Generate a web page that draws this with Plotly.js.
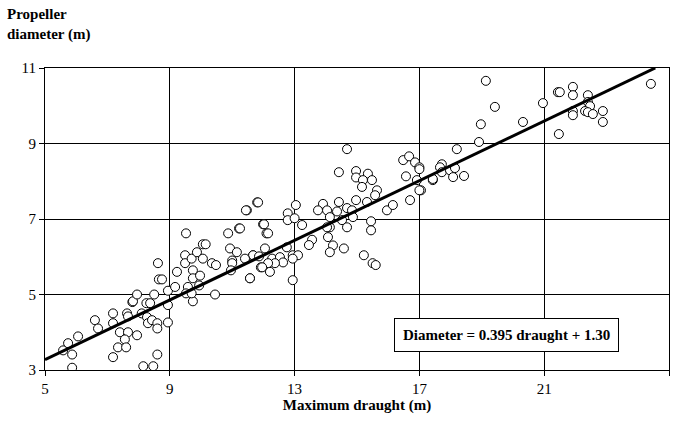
<!DOCTYPE html>
<html>
<head>
<meta charset="utf-8">
<script src="https://cdn.plot.ly/plotly-3.0.1.min.js"></script>
<style>html,body{margin:0;padding:0;background:#fff}#chart{width:676px;height:431px}</style>
</head>
<body>
<div id="chart"></div>
<script>
// Maximum draught (m)
const draught = [5.87,5.58,5.74,5.87,6.06,6.6,6.7,7.18,7.18,7.18,7.4,7.66,7.56,7.34,7.6,7.63,7.66,7.95,7.8,7.82,
  7.95,8.1,8.25,8.37,8.27,8.3,8.43,8.6,8.6,8.5,8.62,8.65,8.75,8.6,8.15,8.47,8.94,8.94,8.94,9.17,
  9.23,9.49,9.49,9.52,9.7,9.74,9.74,9.58,9.52,9.74,9.7,9.87,10.06,10.06,10.15,9.97,9.94,10.35,10.48,10.45,
  10.87,11.22,10.93,11.15,11.0,11.0,10.96,11.57,11.47,11.8,11.67,11.92,11.99,12.1,
  14.68,14.42,14.97,14.97,15.35,15.19,15.48,15.16,15.64,15.58,16.48,16.67,16.86,17.0,16.57,16.92,17.43,17.05,16.7,15.96,
  16.15,15.45,15.45,15.22,15.5,15.6,14.97,15.32,14.42,13.91,13.75,14.04,14.36,14.68,14.84,14.87,14.13,14.52,14.13,14.04,
  14.68,14.07,14.23,14.13,14.58,13.04,12.78,12.78,13.0,13.24,13.56,13.46,11.83,11.44,12.02,12.15,11.25,12.05,11.67,11.41,
  11.86,12.28,12.53,12.75,12.94,13.11,12.94,12.63,12.37,12.15,11.96,12.21,11.57,12.94,
  19.13,19.42,18.97,18.91,18.2,20.32,20.96,21.44,21.5,21.92,21.92,22.4,22.4,22.47,21.92,21.92,22.31,22.4,22.56,22.88,
  22.88,21.47,24.42,17.72,17.66,17.72,17.98,18.14,18.08,18.43,17.43,17.0,17.0];
// Propeller diameter (m)
const diameter = [3.06,3.52,3.71,3.41,3.89,4.32,4.1,4.5,4.24,3.34,4.0,4.0,3.81,3.6,3.6,4.5,4.42,3.92,4.8,4.82,
  5.0,4.5,4.77,4.77,4.4,4.24,4.32,4.24,4.1,5.0,5.83,5.4,5.4,3.41,3.1,3.1,5.1,4.72,4.26,5.2,
  5.6,6.04,5.83,6.62,5.95,5.64,5.43,5.2,5.03,4.82,5.03,6.12,5.95,6.33,6.33,5.5,5.24,5.83,5.78,5.0,
  6.62,6.75,6.22,6.12,5.9,5.83,5.64,5.43,7.23,7.44,6.04,5.72,6.86,6.62,
  8.85,8.24,8.27,8.1,8.2,8.03,8.03,7.85,7.76,7.63,8.56,8.66,8.5,8.37,8.13,8.03,8.03,7.76,7.5,7.23,
  7.37,6.94,6.7,6.04,5.83,5.78,7.5,7.45,7.45,7.4,7.23,7.23,7.2,7.29,7.23,7.05,7.05,6.97,6.78,6.78,
  6.78,6.52,6.3,6.12,6.22,7.37,7.15,6.97,7.02,6.84,6.45,6.31,7.44,7.23,6.86,6.62,6.75,6.22,6.04,5.95,
  6.01,5.95,5.99,6.25,6.04,6.04,5.95,5.85,5.83,5.83,5.72,5.6,5.43,5.38,
  10.66,9.97,9.51,9.04,8.85,9.57,10.07,10.36,10.36,10.5,10.28,10.28,10.1,9.99,9.86,9.75,9.86,9.83,9.78,9.86,
  9.57,9.25,10.58,8.45,8.37,8.24,8.29,8.35,8.11,8.14,8.06,8.32,7.76];
const slope = 0.395;
const intercept = 1.30;
const fitX = [5, 24.56];
const fitY = fitX.map(x => slope * x + intercept);

const font = 'Liberation Serif, Times New Roman, serif';

const data = [
  {
    type: 'scatter', mode: 'markers', x: draught, y: diameter,
    marker: { symbol: 'circle', size: 9, color: '#fff', line: { color: '#000', width: 1 } },
    hoverinfo: 'x+y'
  },
  {
    type: 'scatter', mode: 'lines', x: fitX, y: fitY,
    line: { color: '#000', width: 3 }
  }
];

const layout = {
  width: 676, height: 431,
  margin: { l: 45, r: 7, t: 68, b: 61 },
  paper_bgcolor: '#fff', plot_bgcolor: '#fff',
  showlegend: false,
  font: { family: font, size: 14, color: '#000' },
  xaxis: {
    range: [5, 25], tickvals: [5, 9, 13, 17, 21, 25],
    showgrid: true, gridcolor: '#000', gridwidth: 1,
    showline: true, linecolor: '#000', linewidth: 1, mirror: true,
    ticks: 'outside', ticklen: 5, tickcolor: '#000',
    tickfont: { family: font, size: 15 },
    zeroline: false,
    title: { text: '<b>Maximum draught (m)</b>', font: { family: font, size: 15 }, standoff: 2 }
  },
  yaxis: {
    range: [3, 11], tickvals: [3, 5, 7, 9, 11],
    showgrid: true, gridcolor: '#000', gridwidth: 1,
    showline: true, linecolor: '#000', linewidth: 1, mirror: true,
    ticks: 'outside', ticklen: 5, tickcolor: '#000',
    tickfont: { family: font, size: 15 },
    zeroline: false
  },
  annotations: [
    {
      xref: 'paper', yref: 'paper', x: -0.064, y: 1.075, xanchor: 'left', yanchor: 'bottom',
      text: '<b>Propeller<br>diameter (m)</b>', align: 'left', showarrow: false,
      font: { family: font, size: 15 }
    },
    {
      xref: 'paper', yref: 'paper', x: 0.74, y: 0.115, xanchor: 'center', yanchor: 'middle',
      text: '<b>Diameter = 0.395 draught + 1.30</b>', showarrow: false,
      font: { family: font, size: 15 }, bgcolor: '#fff',
      bordercolor: '#000', borderwidth: 1, borderpad: 8
    }
  ]
};

Plotly.newPlot('chart', data, layout, { displayModeBar: false, staticPlot: true });
</script>
</body>
</html>
